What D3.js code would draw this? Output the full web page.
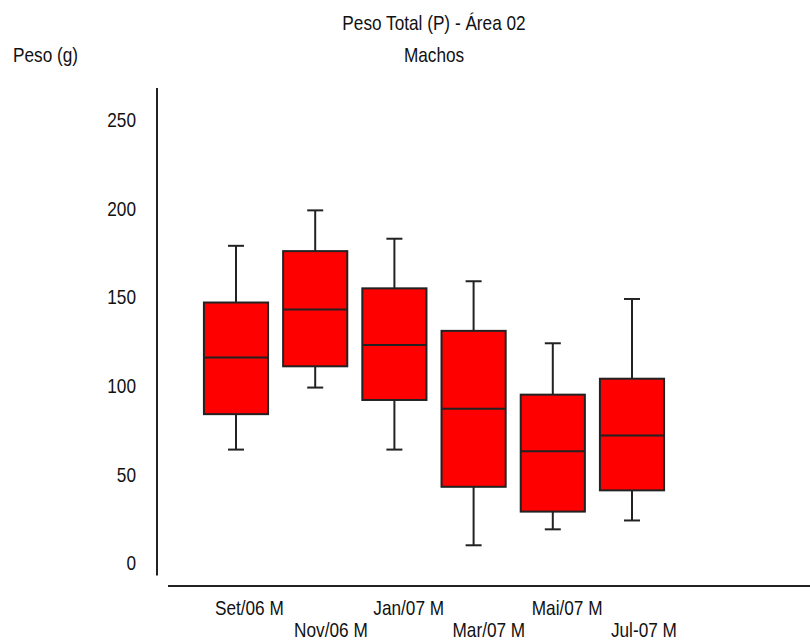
<!DOCTYPE html>
<html>
<head>
<meta charset="utf-8">
<script src="https://cdn.jsdelivr.net/npm/d3@7"></script>
<style>
  html, body { margin: 0; padding: 0; background: #fff; }
  svg { display: block; }
  text { font-family: "Liberation Sans", Arial, sans-serif; fill: #111; }
</style>
</head>
<body>
<svg id="chart" width="810" height="641"></svg>
<script>
// ---- data ----
const categories = ["Set/06 M", "Nov/06 M", "Jan/07 M", "Mar/07 M", "Mai/07 M", "Jul-07 M"];
const whiskerHigh = [179, 199, 183, 159, 124, 149];
const q3          = [147, 176, 155, 131, 95, 104];
const medians     = [116, 143, 123, 87, 63, 72];
const q1          = [84, 111, 92, 43, 29, 41];
const whiskerLow  = [64, 99, 64, 10, 19, 24];
const yTicks      = [0, 50, 100, 150, 200, 250];
const title       = "Peso Total (P) - Área 02";
const subtitle    = "Machos";
const yLabel      = "Peso (g)";

const rows = categories.map((c, i) => ({
  cat: c, hi: whiskerHigh[i], q3: q3[i], med: medians[i], q1: q1[i], lo: whiskerLow[i], idx: i
}));

const svg = d3.select("#chart");
const FONT = 21;
const SX = 0.82;        // horizontal condensation (narrow face look)
const STROKE = "#222";

function narrowText(parent, px, py, anchor, str) {
  return parent.append("text")
    .attr("transform", `translate(${px},${py}) scale(${SX},1)`)
    .attr("text-anchor", anchor)
    .style("font-size", FONT + "px")
    .text(str);
}

const x = d3.scaleBand().domain(categories).range([196.4, 671.6])
  .paddingInner(0.19).paddingOuter(0.095);
const y = d3.scaleLinear().domain([0, 250]).range([563, 120]);

// titles
narrowText(svg, 434, 30, "middle", title);
narrowText(svg, 434, 62, "middle", subtitle);
narrowText(svg, 13, 62, "start", yLabel);

// y axis
const yAxis = svg.append("g").attr("transform", "translate(157,0)")
  .call(d3.axisLeft(y).tickValues(yTicks).tickSize(0).tickFormat(d3.format("d")));
yAxis.select(".domain").remove();
yAxis.selectAll("text")
  .attr("x", -21 / SX)
  .attr("transform", `scale(${SX},1)`)
  .attr("fill", "#111")
  .style("font-size", FONT + "px")
  .style("font-family", '"Liberation Sans", Arial, sans-serif');
svg.append("line").attr("x1", 157).attr("x2", 157).attr("y1", y(268)).attr("y2", y(-7))
  .attr("stroke", STROKE).attr("stroke-width", 2);

// x axis line
svg.append("line").attr("x1", 168).attr("x2", 810).attr("y1", 586).attr("y2", 586)
  .attr("stroke", STROKE).attr("stroke-width", 2);

// x labels (staggered)
const labG = svg.append("g");
rows.forEach(d => {
  narrowText(labG, x(d.cat) + 11, d.idx % 2 === 0 ? 615 : 637, "start", d.cat);
});

// boxes
const bw = x.bandwidth();
const capW = 16;
const g = svg.append("g").selectAll("g").data(rows).join("g");

g.append("line")
  .attr("x1", d => x(d.cat) + bw / 2).attr("x2", d => x(d.cat) + bw / 2)
  .attr("y1", d => y(d.hi)).attr("y2", d => y(d.lo))
  .attr("stroke", STROKE).attr("stroke-width", 2);
g.append("line")
  .attr("x1", d => x(d.cat) + bw / 2 - capW / 2).attr("x2", d => x(d.cat) + bw / 2 + capW / 2)
  .attr("y1", d => y(d.hi)).attr("y2", d => y(d.hi))
  .attr("stroke", STROKE).attr("stroke-width", 2);
g.append("line")
  .attr("x1", d => x(d.cat) + bw / 2 - capW / 2).attr("x2", d => x(d.cat) + bw / 2 + capW / 2)
  .attr("y1", d => y(d.lo)).attr("y2", d => y(d.lo))
  .attr("stroke", STROKE).attr("stroke-width", 2);
g.append("rect")
  .attr("x", d => x(d.cat)).attr("width", bw)
  .attr("y", d => y(d.q3)).attr("height", d => y(d.q1) - y(d.q3))
  .attr("fill", "#ff0000").attr("stroke", STROKE).attr("stroke-width", 2);
g.append("line")
  .attr("x1", d => x(d.cat)).attr("x2", d => x(d.cat) + bw)
  .attr("y1", d => y(d.med)).attr("y2", d => y(d.med))
  .attr("stroke", STROKE).attr("stroke-width", 2);
</script>
</body>
</html>
